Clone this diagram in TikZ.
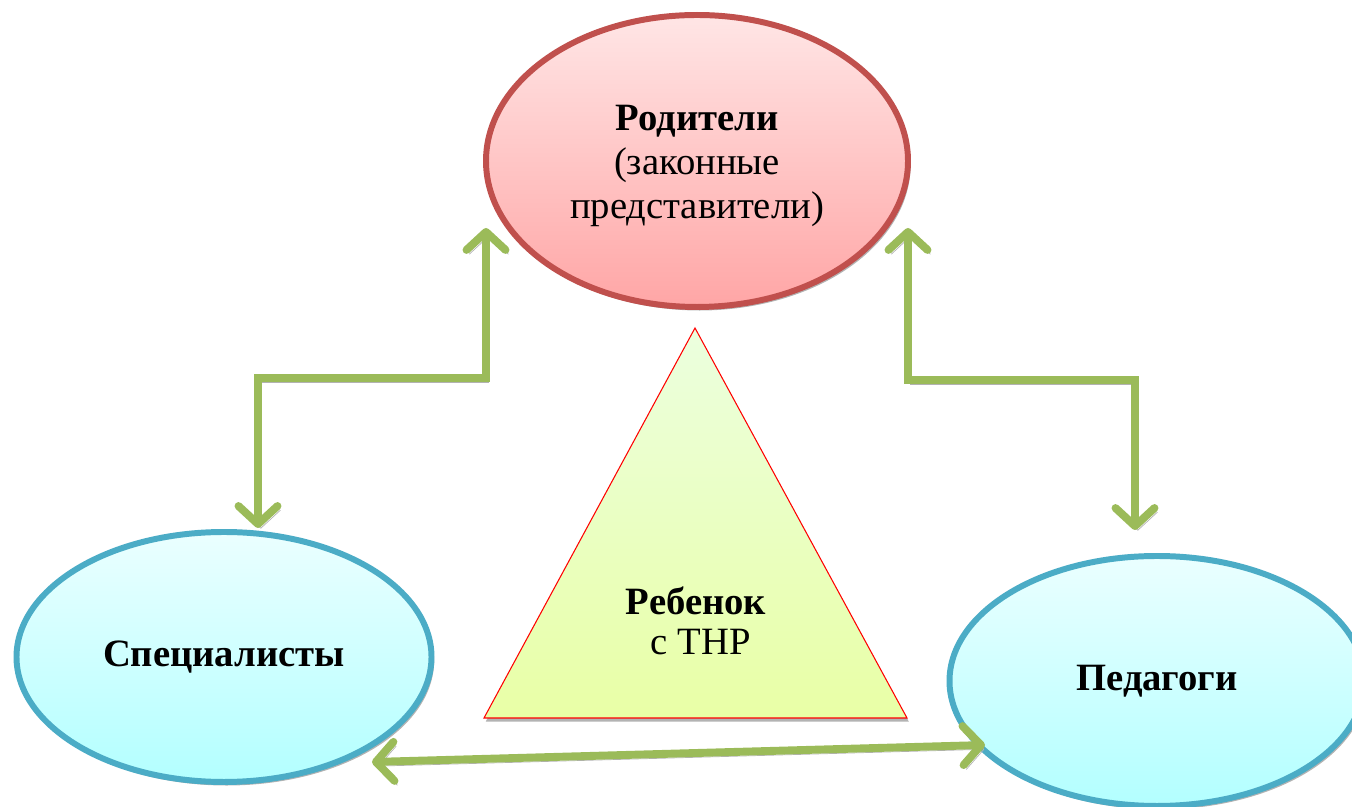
\documentclass[tikz,border=0pt]{standalone}
\usepackage{fontspec}
\setmainfont{Liberation Serif}
\usepackage{tikz}
\usetikzlibrary{arrows.meta,shapes.geometric,shadows}

\definecolor{linkgreen}{HTML}{9BBB59}
\definecolor{parentred}{HTML}{C0504D}
\definecolor{staffblue}{HTML}{4BACC6}

\tikzset{
  oval/.style = {ellipse, line width=3.4pt, align=center,
                 drop shadow={shadow xshift=1.5pt, shadow yshift=-2pt, fill=gray, opacity=.6}},
  link/.style = {draw=linkgreen, line width=4.5pt, line cap=round, line join=miter,
                 >={Straight Barb[length=0.36cm, width=0.78cm, line width=4.5pt, round]},
                 preaction={draw=gray!60, transform canvas={xshift=1.6pt, yshift=-2.4pt}}},
}

\begin{document}
\begin{tikzpicture}
  \useasboundingbox (0,0) rectangle (27.04,16.14);
  \fontsize{22}{25}\selectfont

  % child in the middle
  \draw [draw=red, line width=0.6pt, top color=green!8!white!95!yellow, bottom color=green!25!yellow!35!white,
         drop shadow={shadow xshift=1pt, shadow yshift=-2pt, fill=gray, opacity=.6}]
        (13.9,9.58) -- (18.14,1.78) -- (9.68,1.78) -- cycle;
  \node [align=center] (child) at (13.92,3.72) {\textbf{Ребенок}\\[-2pt] \ с ТНР};

  \node [oval, draw=parentred, top color=red!10!white, bottom color=red!35!white,
         minimum width=8.44cm, minimum height=5.84cm] (parents) at (13.94,12.92) {};
  \node [align=center] (parentstext) at ([yshift=-0.1cm]parents.center)
        {\textbf{Родители}\\(законные\\представители)};
  \node [oval, draw=staffblue, top color=cyan!8!white, bottom color=cyan!30!white,
         minimum width=8.3cm, minimum height=5cm] (experts) at (4.48,3.0) {\textbf{Специалисты}};
  \node [oval, draw=staffblue, top color=cyan!8!white, bottom color=cyan!30!white,
         minimum width=8.3cm, minimum height=5cm] (teachers) at (23.14,2.52) {\textbf{Педагоги}};

  % arrow ends
  \coordinate (pl) at (9.72,11.58);
  \coordinate (pr) at (18.16,11.58);
  \coordinate (el) at (5.16,5.58);
  \coordinate (tr) at (22.7,5.54);
  \coordinate (eb) at (7.44,0.9);
  \coordinate (tb) at (19.7,1.24);

  \draw [link, <->] (el) |- (9.72,8.58) -- (pl);
  \draw [link, <->] (pr) |- (22.7,8.54) -- (tr);
  \draw [link, <->] (eb) -- (tb);
\end{tikzpicture}
\end{document}
